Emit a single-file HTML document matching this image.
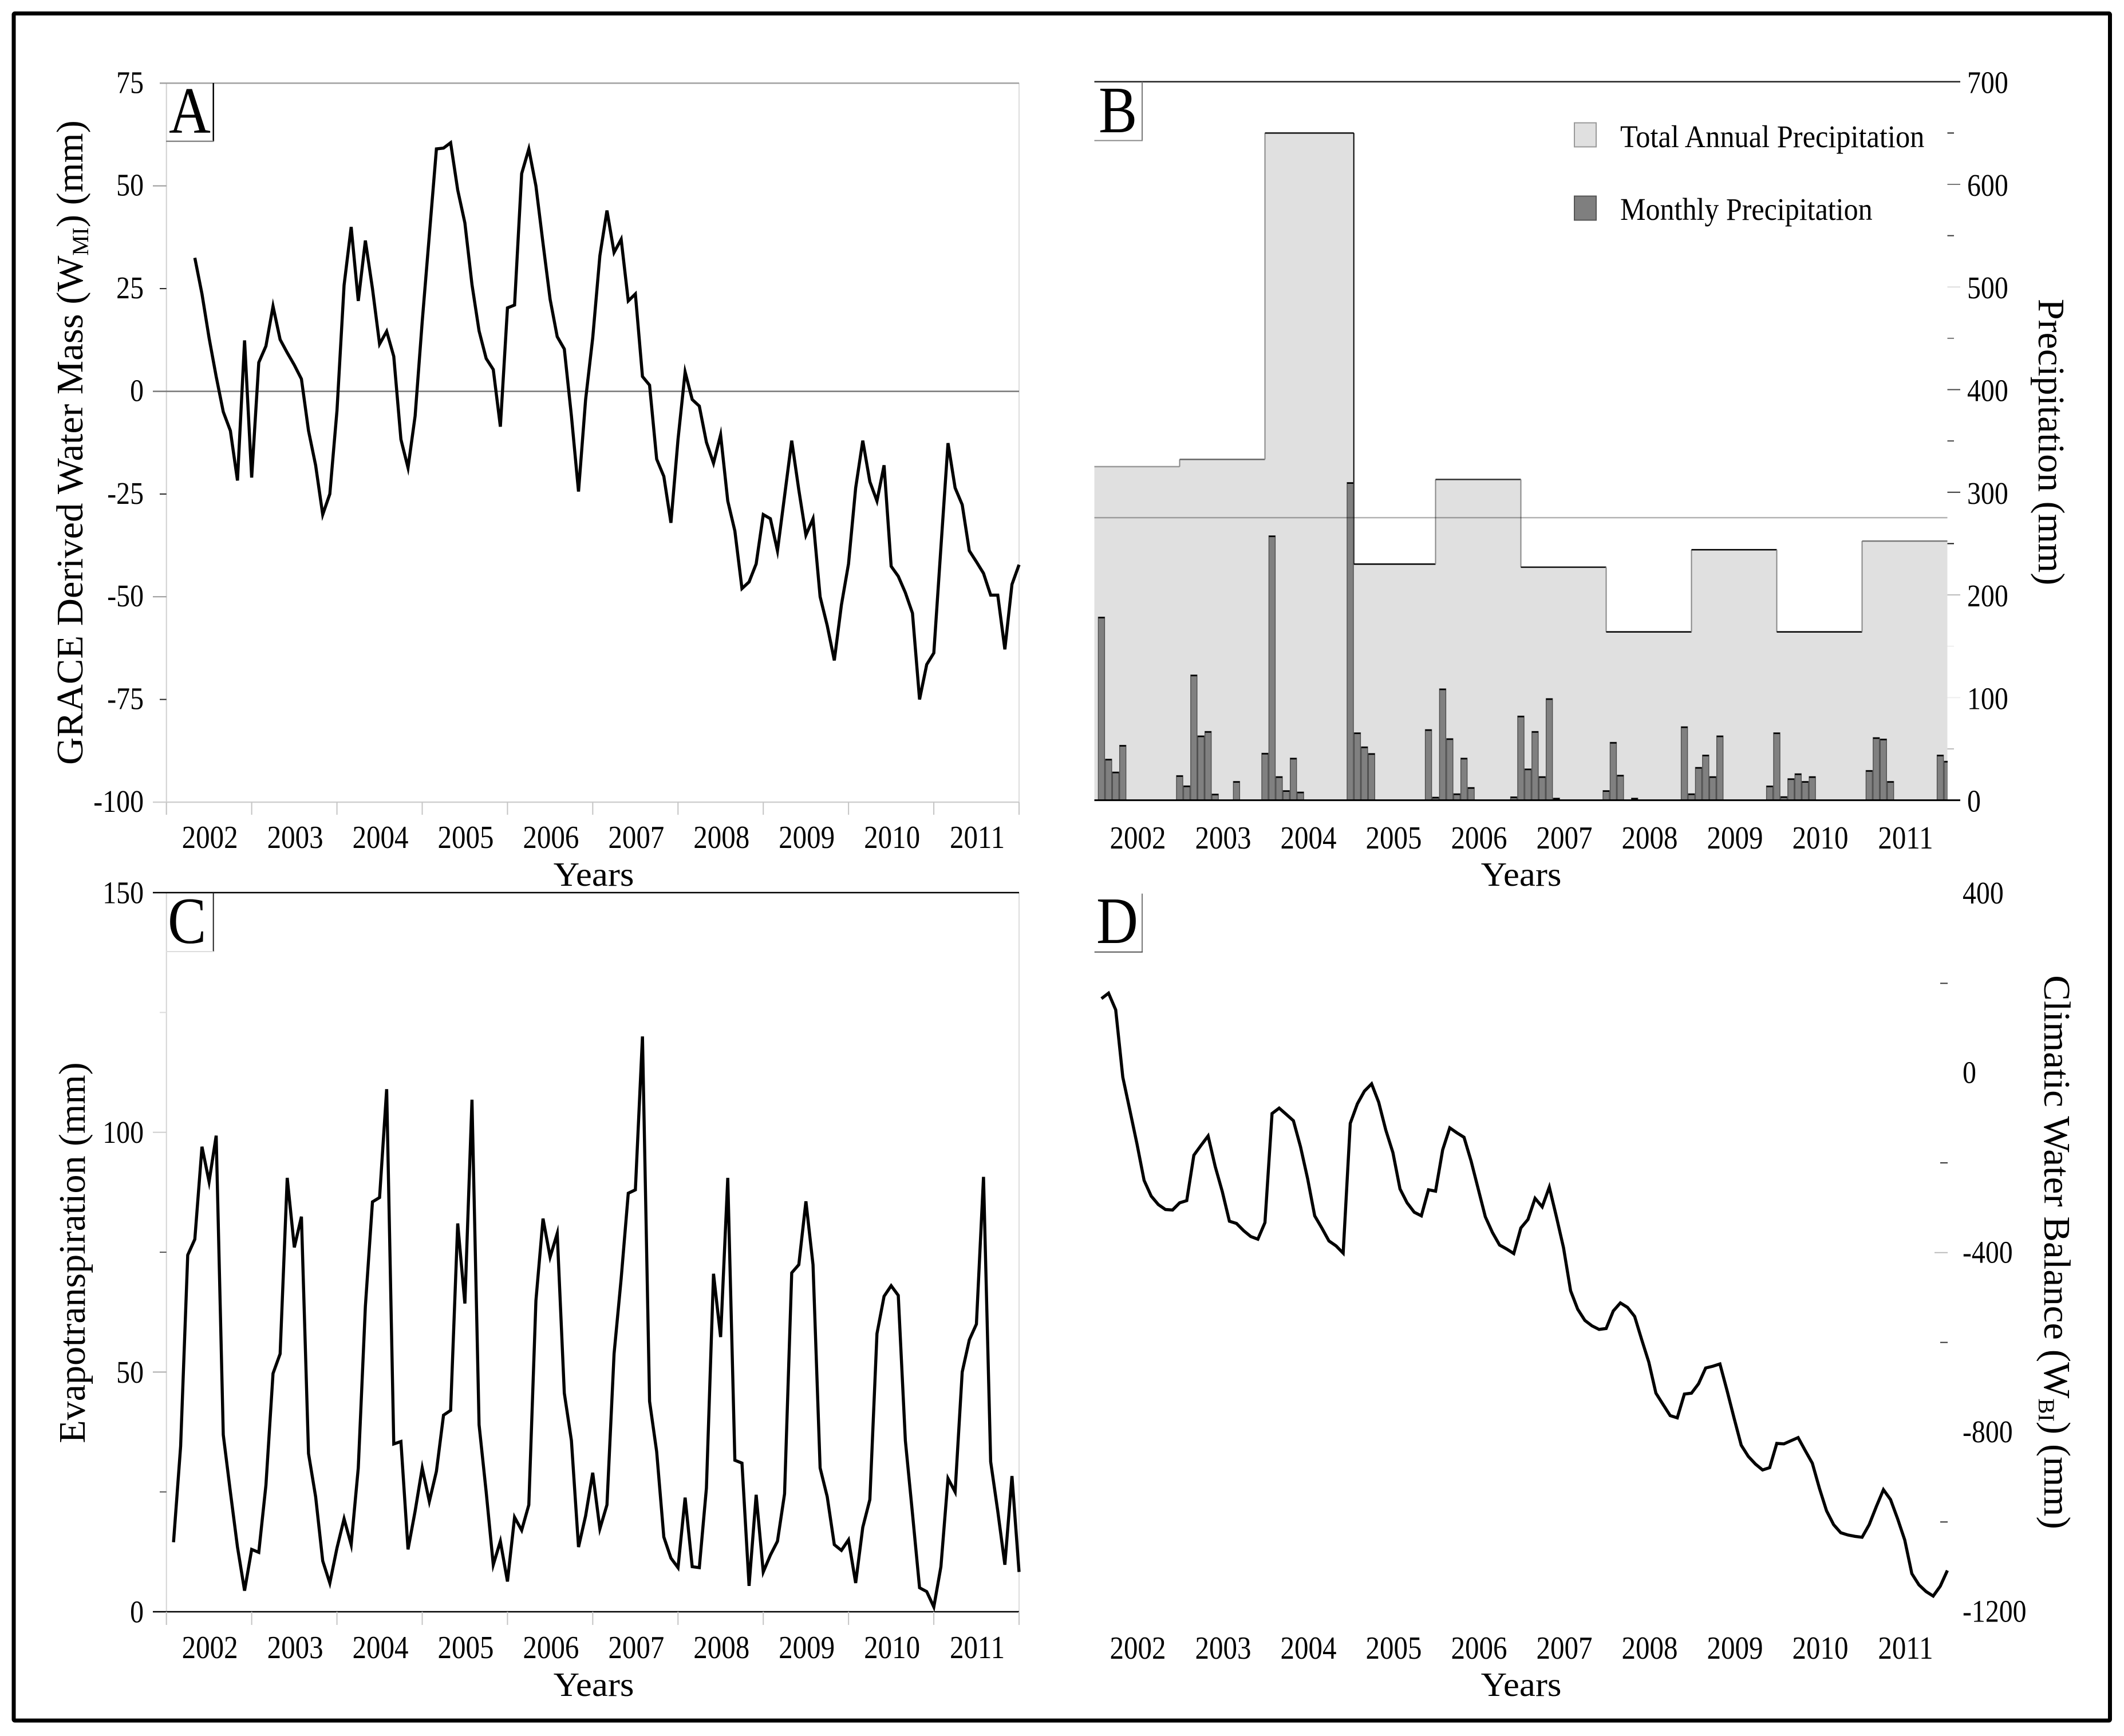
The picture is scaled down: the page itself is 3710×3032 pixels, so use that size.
<!DOCTYPE html>
<html lang="en">
<head>
<meta charset="utf-8">
<title>Water mass, precipitation, evapotranspiration and water balance, 2002-2011</title>
<style>
html,body{margin:0;padding:0;background:#fff;}
svg{display:block;}
text{font-family:"Liberation Serif","Times New Roman",serif;fill:#000;}
</style>
</head>
<body>
<svg id="figure" xmlns="http://www.w3.org/2000/svg" width="3710" height="3032" viewBox="0 0 3710 3032">
  <defs>
    <clipPath id="clip-b"><rect x="1911" y="100" width="1491" height="1400"/></clipPath>
  </defs>
  <rect x="0" y="0" width="3710" height="3032" fill="#fff"/>
  <rect x="24" y="23.5" width="3661.5" height="2981.5" rx="2" fill="none" stroke="#000" stroke-width="7"/>

  <g id="panel-a"></g>
  <g id="panel-b"></g>
  <g id="panel-c"></g>
  <g id="panel-d"></g>

  <!-- panel letters -->
  <g>
    <line x1="372.7" y1="145" x2="372.7" y2="247" stroke="#000" stroke-width="2.5"/>
    <line x1="290" y1="246.7" x2="373" y2="246.7" stroke="#888" stroke-width="2.5"/>
    <text transform="translate(295,232) scale(0.87,1)" font-size="116">A</text>
  </g>
  <g>
    <line x1="1995" y1="143" x2="1995" y2="246" stroke="#777" stroke-width="2"/>
    <line x1="1911.5" y1="245.5" x2="1996" y2="245.5" stroke="#888" stroke-width="2"/>
    <text transform="translate(1919,231) scale(0.87,1)" font-size="116">B</text>
  </g>
  <g>
    <line x1="372.7" y1="1559" x2="372.7" y2="1662" stroke="#222" stroke-width="2"/>
    <line x1="290" y1="1662" x2="373" y2="1662" stroke="#ddd" stroke-width="2"/>
    <text transform="translate(293,1647) scale(0.87,1)" font-size="116">C</text>
  </g>
  <g>
    <line x1="1995" y1="1560.7" x2="1995" y2="1663" stroke="#777" stroke-width="2"/>
    <line x1="1911.7" y1="1662.7" x2="1996" y2="1662.7" stroke="#555" stroke-width="2"/>
    <text transform="translate(1915,1647) scale(0.87,1)" font-size="116">D</text>
  </g>

  <!-- axis titles -->
  <text transform="translate(144,773) rotate(-90) scale(1.01,1)" text-anchor="middle" font-size="66">GRACE Derived Water Mass (W<tspan dy="10" font-size="40">MI</tspan><tspan dy="-10">)</tspan> (mm)</text>
  <text transform="translate(1037,1547) scale(1.07,1)" text-anchor="middle" font-size="59">Years</text>
  <text transform="translate(3561,772) rotate(90)" text-anchor="middle" font-size="66">Precipitation (mm)</text>
  <text transform="translate(2657,1547) scale(1.07,1)" text-anchor="middle" font-size="59">Years</text>
  <text transform="translate(148,2188) rotate(-90)" text-anchor="middle" font-size="66">Evapotranspiration (mm)</text>
  <text transform="translate(1037,2962) scale(1.07,1)" text-anchor="middle" font-size="59">Years</text>
  <text transform="translate(3571,2187) rotate(90) scale(1.015,1)" text-anchor="middle" font-size="66">Climatic Water Balance (W<tspan dy="10" font-size="40">BI</tspan><tspan dy="-10">)</tspan> (mm)</text>
  <text transform="translate(2657,2962) scale(1.07,1)" text-anchor="middle" font-size="59">Years</text>

  <!-- legend -->
  <g>
    <g>
      <rect x="2750" y="214.5" width="38" height="42" fill="#e0e0e0" stroke="#999" stroke-width="2"/>
      <text transform="translate(2830,257) scale(0.917,1)" font-size="55">Total Annual Precipitation</text>
    </g>
    <g>
      <rect x="2750" y="342.5" width="38" height="42" fill="#7f7f7f" stroke="#555" stroke-width="2"/>
      <text transform="translate(2830,384) scale(0.91,1)" font-size="55">Monthly Precipitation</text>
    </g>
  </g>
</svg>

<script>
// ---------- shared categories ----------
const yearLabels = ["2002","2003","2004","2005","2006","2007","2008","2009","2010","2011"];

// ---------- panel A: GRACE derived water mass, mm, monthly from month index 4 ----------
const graceStartMonth = 4;
const graceValues = [
  32.5,23.7,13,3.6,-5,-9.6,-21.7,12.4,-21,7,11,20.7,
  12.6,9.4,6.4,3,-9.6,-18,-30,-25,-4.7,25.8,40,22,
  36.7,25,11.5,14.6,8.5,-11.7,-18.6,-6,17,38,59,59.2,
  60.5,49,41,26,14.7,8,5.3,-8.6,20.3,21,53,59,
  50,36,22.4,13.3,10.3,-6,-24.4,-2,13,33,44,33.8,
  37,22,23.7,3.6,1.5,-16.5,-20.7,-32,-11.7,4.7,-2,-3.6,
  -12.4,-17.5,-10.6,-26.7,-34,-48,-46.4,-42,-30,-31,-38.8,-25.5,
  -12,-24,-35,-31,-50,-57,-65.5,-52,-42,-23.5,-12,-22,
  -26.7,-18,-42.6,-45,-49,-54,-75,-66.5,-63.7,-38,-12.6,-23.5,
  -27.6,-38.8,-41.5,-44.3,-49.6,-49.6,-62.8,-47,-42.2
];
const graceTicksLabelled = [75,50,25,0,-25,-50,-75,-100];

// ---------- panel B: precipitation, mm ----------
const annualPrecip = [325,332,650,230,312.5,227,164,244,164,252.5];
const annualEdgeMonths = [0,12,24,36.5,48,60,72,84,96,108,120];
const meanPrecip = [275.3];
const precipMonths = [1,2,3,4,12,13,14,15,16,17,20,24,25,26,27,28,29,36,37,38,39,47,48,49,50,51,52,53,59,60,61,62,63,64,65,72,73,74,76,83,84,85,86,87,88,95,96,97,98,99,100,101,109,110,111,112,119,120];
const precipValues = [178.4,40,27.5,53.5,24,14,122,62.7,67,6,18.3,45.8,257.6,23,9.4,41,8,309.5,65.7,52,45.5,68.8,3,108.5,60,6.3,41,12.4,3.3,82,30.5,67,23,99,2,9.4,56.4,24.4,2,71.6,6.3,32,44,23,62.7,13.9,65.7,3.5,21,25.8,18.3,23,29,61,59.6,18.3,44,38];
const precipTickLabels = [700,600,500,400,300,200,100,0];
const precipMinorTicks = [650,550,450,350,250,150,50];

// ---------- panel C: evapotranspiration, mm, monthly from month index 1 ----------
const etStartMonth = 1;
const etValues = [
  14.5,34.5,74.4,77.7,97,89.7,99.3,36.9,25,13.5,4.4,13,
  12.4,26.4,49.7,53.8,90.5,76,82.4,33,24,10.6,6,13.3,
  19.4,14,30,63.7,85.5,86.4,109,35,35.5,13,21,30,
  23,29.3,41,42,81,64.3,106.8,39,25,9.8,14.7,6.3,
  19.7,17,22.3,64.9,82,74,78.9,45.6,35.7,13.5,20,29,
  17.3,22.3,53.8,69.5,87.3,88,120,43.9,33.4,15.6,11.2,9.2,
  23.8,9.4,9.2,25.8,70.5,57.3,90.5,31.6,31,5.4,24.4,8.3,
  11.8,14.7,24.6,70.7,72.4,85.6,72.4,30,24,14,12.8,15,
  6,17.6,23.4,58,65.8,68,66,35.7,20.5,5,4.2,1,
  9.4,27.8,25,50,56.7,60,90.7,31.3,21,9.8,28.3,8.3
];
const etTickLabels = [150,100,50,0];
const etMinorTicks = [125,75,25];

// ---------- panel D: climatic water balance, mm, monthly from month index 1 ----------
const balanceStartMonth = 1;
const balanceValues = [
  166,178,141,-9,-83,-158,-239,-274,-293,-304,-305,-289,
  -284,-183,-161,-140,-208,-264,-330,-335,-351,-364,-370,-333,
  -90,-78,-92,-106,-164,-235,-318,-345,-374,-385,-401,-112,
  -68.5,-40,-24,-65,-127,-177,-258,-289,-310,-318,-260,-263,
  -171,-122,-133,-143,-196,-258,-320,-355,-383,-392,-402,-345,
  -326,-279,-298,-254,-320,-389,-485,-526,-551,-563,-571,-569,
  -530,-512,-522,-542,-594,-644,-713,-738,-763,-768,-715,-713,
  -692,-657,-653,-648,-707,-769,-829,-854,-871,-884,-879,-825,
  -826,-819,-812,-841,-869,-925,-975,-1006,-1024,-1029,-1032,-1034,
  -1006,-966,-928,-950,-993,-1040,-1115,-1140,-1155,-1165,-1143,-1108
];
const balanceTickLabels = [400,0,-400,-800,-1200];
const balanceMinorTicks = [200,-200,-600,-1000];

// ---------- helpers ----------
const NS = "http://www.w3.org/2000/svg";
function mk(parent, tag, attrs, content) {
  const el = document.createElementNS(NS, tag);
  for (const k in attrs) el.setAttribute(k, attrs[k]);
  if (content !== undefined) el.textContent = content;
  parent.appendChild(el);
  return el;
}
function linear(d0, d1, r0, r1) {
  return function (v) { return r0 + (v - d0) * (r1 - r0) / (d1 - d0); };
}
const MONTH_SPAN = 120;
const leftX = linear(0, MONTH_SPAN, 290.7, 1780);
const rightX = linear(0, MONTH_SPAN, 1911.5, 3401.5);

function yearLabelRow(parent, xScale, baseline) {
  yearLabels.forEach(function (yr, k) {
    const el = mk(parent, "text", {
      transform: "translate(" + (xScale(12 * k + 6) + 1.5) + "," + baseline + ") scale(0.875,1)",
      "text-anchor": "middle", "font-size": 56
    }, yr);
    
    
  });
}
function yearTicks(parent, xScale, y0, y1) {
  for (let k = 0; k <= yearLabels.length; k++) {
    const el = mk(parent, "line", { x1: xScale(12 * k), x2: xScale(12 * k), y1: y0, y2: y1, stroke: "#c4c4c4", "stroke-width": 2 });
    
    
  }
}
function valueTickLabel(parent, x, y, label, anchor) {
  const el = mk(parent, "text", {
    transform: "translate(" + x + "," + (y + 18.5) + ") scale(0.87,1)",
    "text-anchor": anchor, "font-size": 55
  }, String(label));
  
  
}
function tickMark(parent, x0, x1, y, color, width) {
  const el = mk(parent, "line", { x1: x0, x2: x1, y1: y, y2: y, stroke: color, "stroke-width": width });
  
  
}
function seriesLine(parent, xScale, yScale, start, values, name) {
  const d = values.map(function (v, i) {
    return (i ? "L" : "M") + xScale(start + i).toFixed(1) + " " + yScale(v).toFixed(1);
  }).join("");
  const el = mk(parent, "path", { d: d, fill: "none", stroke: "#000", "stroke-width": 5.4, "stroke-linejoin": "miter", "stroke-miterlimit": 6 });
  
  
}
function vLine(parent, x, y0, y1, color, width, name) {
  const el = mk(parent, "line", { x1: x, x2: x, y1: y0, y2: y1, stroke: color, "stroke-width": width });
  
  
}
function hLine(parent, x0, x1, y, color, width, name) {
  const el = mk(parent, "line", { x1: x0, x2: x1, y1: y, y2: y, stroke: color, "stroke-width": width });
  
  
}

// ---------- panel A ----------
(function () {
  const g = document.getElementById("panel-a");
  const y = linear(75, -100, 145.3, 1401);
  vLine(g, 290.7, 145, 1423, "#d0d0d0", 2, "y-axis-line");
  vLine(g, 1780, 145, 1423, "#dcdcdc", 2, "right-edge-line");
  hLine(g, 279, 1780, y(75), "#a0a0a0", 2.5, "top-edge-line");
  hLine(g, 267, 1780, y(0), "#777", 2.5, "zero-line");
  hLine(g, 267, 1780, y(-100), "#cfcfcf", 2.5, "x-axis-line");
  yearTicks(g, leftX, 1401, 1423);
  graceTicksLabelled.forEach(function (v) {
    const major = v % 50 === 0;
    if (v !== 75 && v !== 0 && v !== -100) tickMark(g, major ? 267 : 279, 290.7, y(v), major ? "#999" : "#222", 2);
    valueTickLabel(g, 251, y(v) - 1.5, v, "end");
  });
  yearLabelRow(g, leftX, 1481);
  seriesLine(g, leftX, y, graceStartMonth, graceValues, "grace-water-mass-line");
})();

// ---------- panel B ----------
(function () {
  const g = document.getElementById("panel-b");
  const y = linear(0, 700, 1397.6, 142.7);
  // annual steps
  const topColors = ["#999","#666","#111","#000","#333","#111","#000","#000","#000","#777"];
  let d = "M" + rightX(0) + " " + y(0);
  annualPrecip.forEach(function (v, k) {
    d += "L" + rightX(annualEdgeMonths[k]) + " " + y(v) + "L" + rightX(annualEdgeMonths[k + 1]) + " " + y(v);
  });
  d += "L" + rightX(MONTH_SPAN) + " " + y(0) + "Z";
  const area = mk(g, "path", { d: d, fill: "#e0e0e0", stroke: "none" });
  
  
  annualPrecip.forEach(function (v, k) {
    const x0 = rightX(annualEdgeMonths[k]), x1 = rightX(annualEdgeMonths[k + 1]);
    const top = mk(g, "line", { x1: x0, x2: x1, y1: y(v), y2: y(v), stroke: topColors[k], "stroke-width": 2.5 });
    
    
    if (k < annualPrecip.length - 1) {
      const riser = mk(g, "line", { x1: x1, x2: x1, y1: y(v), y2: y(annualPrecip[k + 1]), stroke: k === 2 ? "#000" : "#888", "stroke-width": 2 });
      
      
    }
  });
  // monthly bars
  const barLayer = mk(g, "g", { "clip-path": "url(#clip-b)" });
  
  
  precipMonths.forEach(function (m, i) {
    const v = precipValues[i];
    const bar = mk(barLayer, "rect", { x: rightX(m) - 5.5, y: y(v), width: 11, height: y(0) - y(v), fill: "#808080", stroke: "#4d4d4d", "stroke-width": 1.4 });
    
    
    const cap = mk(barLayer, "line", { x1: rightX(m) - 5.5, x2: rightX(m) + 5.5, y1: y(v) + 1, y2: y(v) + 1, stroke: "#000", "stroke-width": 2.5 });
    
    
  });
  // mean line
  const mean = mk(g, "line", { x1: rightX(0), x2: rightX(MONTH_SPAN), y1: y(meanPrecip[0]), y2: y(meanPrecip[0]), stroke: "#000", "stroke-opacity": 0.3, "stroke-width": 2.5 });
  
  
  // axes
  hLine(g, 1911.5, 3424, y(700), "#222", 2.5, "top-edge-line");
  hLine(g, 1911.5, 3424, y(0), "#000", 3, "x-axis-line");
  const majorTone = { 600: "#777", 500: "#ddd", 400: "#444", 300: "#333", 200: "#bbb", 100: "#eee" };
  const minorTone = { 650: "#222", 550: "#333", 450: "#777", 350: "#444", 250: "#111", 150: "#eee", 50: "#bbb" };
  precipTickLabels.forEach(function (v) {
    if (v !== 700 && v !== 0) tickMark(g, 3401.5, 3424, y(v), majorTone[v], 2);
    valueTickLabel(g, 3436, y(v) + 1.5, v, "start");
  });
  precipMinorTicks.forEach(function (v) {
    tickMark(g, 3401.5, 3413, y(v), minorTone[v], 2);
  });
  yearLabelRow(g, rightX, 1482);
})();

// ---------- panel C ----------
(function () {
  const g = document.getElementById("panel-c");
  const y = linear(150, 0, 1559, 2815);
  vLine(g, 290.7, 1559, 2838, "#d4d4d4", 2, "y-axis-line");
  vLine(g, 1780, 1559, 2815, "#dcdcdc", 2, "right-edge-line");
  hLine(g, 267, 1780, y(150), "#000", 2.5, "top-edge-line");
  hLine(g, 267, 1780, y(0), "#000", 2.5, "x-axis-line");
  yearTicks(g, leftX, 2815, 2838);
  etTickLabels.forEach(function (v) {
    if (v === 100 || v === 50) tickMark(g, 267, 290.7, y(v), v === 100 ? "#ccc" : "#aaa", 2);
    valueTickLabel(g, 251, y(v), v, "end");
  });
  etMinorTicks.forEach(function (v) {
    tickMark(g, 279, 290.7, y(v), v === 125 ? "#ddd" : "#555", 2);
  });
  yearLabelRow(g, leftX, 2896);
  seriesLine(g, leftX, y, etStartMonth, etValues, "evapotranspiration-line");
})();

// ---------- panel D ----------
(function () {
  const g = document.getElementById("panel-d");
  const y = linear(400, -1200, 1560.6, 2815);
  balanceTickLabels.forEach(function (v) {
    if (v === -400) tickMark(g, 3379, 3402, y(v), "#bbb", 2);
    valueTickLabel(g, 3428, y(v) - 1, v, "start");
  });
  balanceMinorTicks.forEach(function (v) {
    tickMark(g, 3389, 3402, y(v), "#333", 2);
  });
  yearLabelRow(g, rightX, 2897);
  seriesLine(g, rightX, y, balanceStartMonth, balanceValues, "climatic-water-balance-line");
})();
</script>
</body>
</html>
